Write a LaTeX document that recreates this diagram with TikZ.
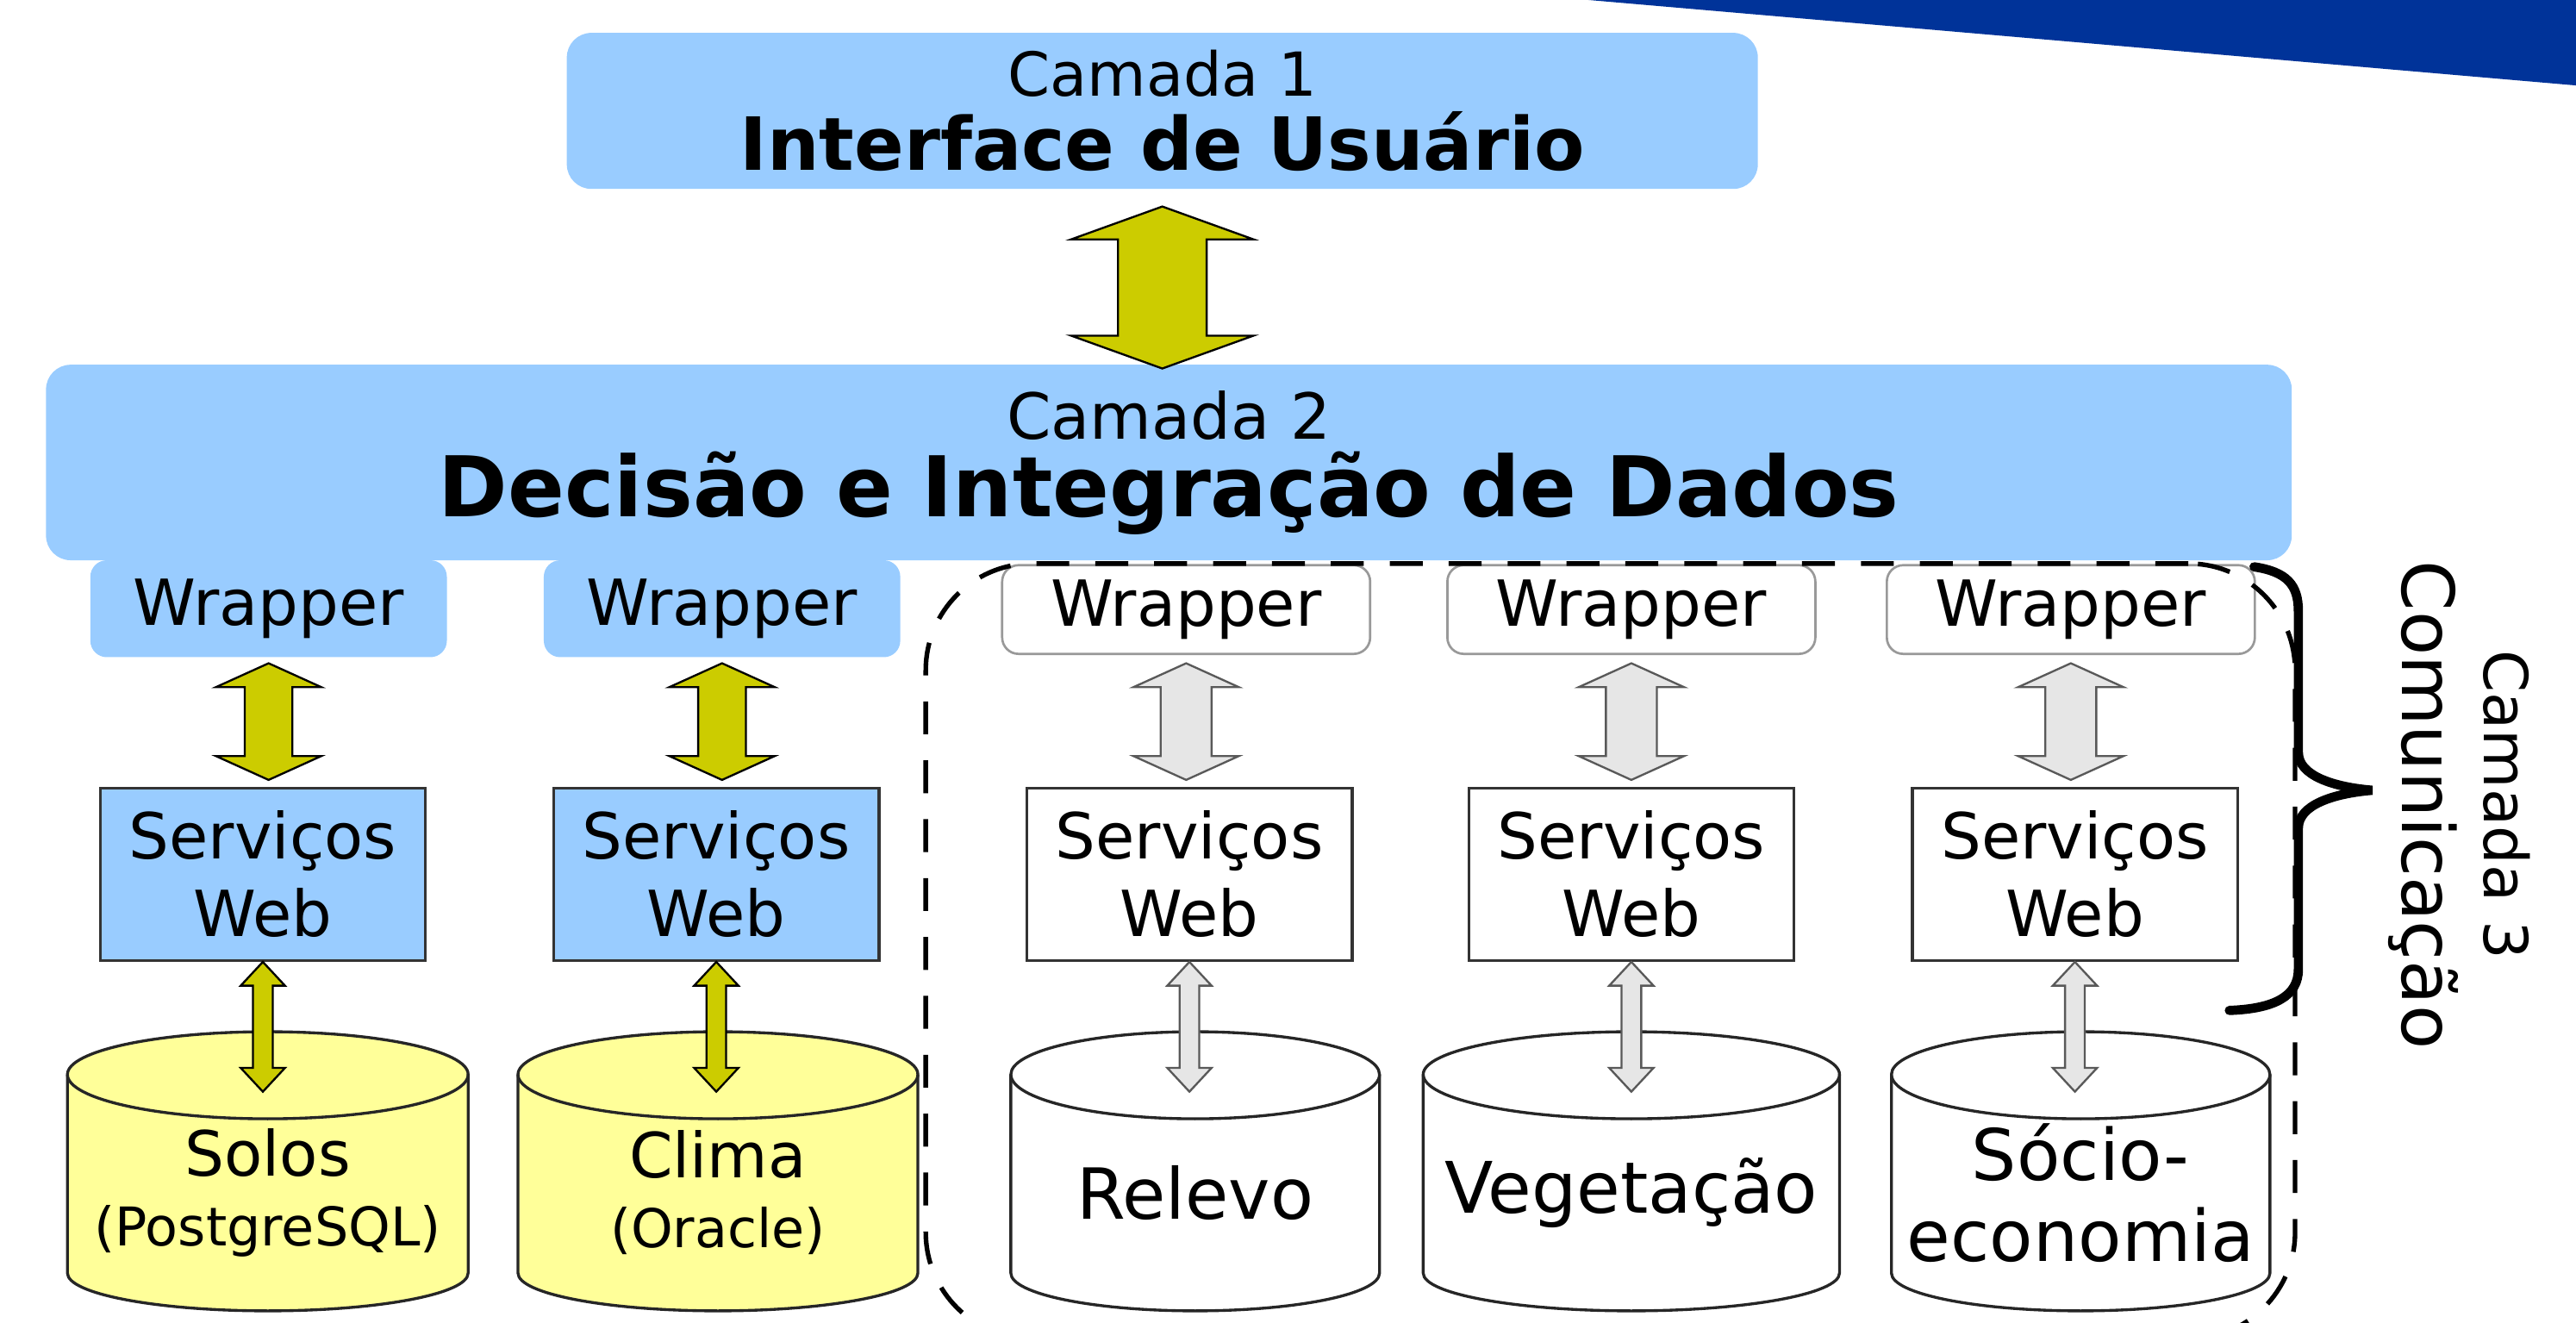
\documentclass[tikz,border=0pt]{standalone}
\usepackage{fontspec}
\setmainfont{DejaVu Sans}
\usetikzlibrary{positioning, calc, fit}

\definecolor{layerblue}{HTML}{99CCFF}
\definecolor{arrowyellow}{HTML}{CCCC00}
\definecolor{dbyellow}{HTML}{FFFF99}
\definecolor{arrowgray}{HTML}{E6E6E6}
\definecolor{bandblue}{HTML}{003399}

\pgfdeclarelayer{background}
\pgfsetlayers{background,main}

% double block arrow: #1 style, #2 top end, #3 bottom end, #4 half shaft, #5 half head, #6 head length
\newcommand{\dblarrow}[6]{%
  \draw[#1] let \p1=(#2), \p2=(#3) in
    (\x1,\y1) -- (\x1+#5,\y1-#6) -- (\x1+#4,\y1-#6) -- (\x1+#4,\y2+#6) -- (\x1+#5,\y2+#6)
    -- (\x1,\y2) -- (\x1-#5,\y2+#6) -- (\x1-#4,\y2+#6) -- (\x1-#4,\y1-#6) -- (\x1-#5,\y1-#6) -- cycle;}

% database cylinder behind a named node: #1 node, #2 fill
\newcommand{\dbcyl}[2]{%
  \begin{pgfonlayer}{background}
    \filldraw[dbline, fill=#2] let \p1=(#1.north west), \p2=(#1.south east) in
      (\x1,\y1) -- (\x1,\y2+2.3mm) arc[start angle=180, end angle=360, x radius={(\x2-\x1)/2}, y radius=2.3mm]
      -- (\x2,\y1) arc[start angle=0, end angle=180, x radius={(\x2-\x1)/2}, y radius=2.6mm] -- cycle;
    \draw[dbline] let \p1=(#1.north west), \p2=(#1.south east) in
      (\x1,\y1) arc[start angle=180, end angle=360, x radius={(\x2-\x1)/2}, y radius=2.7mm];
  \end{pgfonlayer}}

\begin{document}
\begin{tikzpicture}[x=0.1mm, y=-0.1mm,
  layerbox/.style={fill=layerblue, rounded corners=1.5mm, inner sep=0pt, align=center},
  wrapblue/.style={fill=layerblue, rounded corners=1mm, minimum width=21.7mm, minimum height=5.9mm, inner sep=0pt, font=\fontsize{11}{13.4}\selectfont},
  wrapwhite/.style={draw=black!40, line width=0.4pt, fill=white, rounded corners=1mm, minimum width=22.4mm, minimum height=5.4mm, inner sep=0pt, font=\fontsize{11}{13.4}\selectfont},
  service/.style={draw=black!80, line width=0.5pt, fill=#1, minimum width=19.8mm, minimum height=10.5mm, inner sep=0pt, align=center, font=\fontsize{11}{13.4}\selectfont},
  db/.style={minimum width=#1, minimum height=14.25mm, inner sep=0pt, align=center},
  dbline/.style={draw=black!85, line width=0.5pt},
  yarrow/.style={fill=arrowyellow, draw=black, line width=0.35pt},
  garrow/.style={fill=arrowgray, draw=black!65, line width=0.35pt},
  cluster/.style={draw, dash pattern=on 5.7pt off 4.5pt, line width=0.8pt, rounded corners=6.5mm, inner sep=0pt},
  bracket/.style={line width=1.6pt, line cap=round}
]

% ---------- Corner band ----------
\fill[bandblue] (967,0) -- (1568,0) -- (1568,52) -- cycle;
\useasboundingbox (0,0) rectangle (1568,805);

% ---------- Layers 1 and 2 ----------
\node[layerbox, minimum width=72.5mm, minimum height=9.5mm, font=\fontsize{10.5}{12.8}\selectfont] (cam1) at (707.5,67.5) {Camada 1\\{\fontsize{12.7}{12.8}\selectfont\bfseries Interface de Usuário}};
\node[layerbox, minimum width=136.7mm, minimum height=11.9mm, font=\fontsize{11}{13.4}\selectfont] (cam2) at (711.5,281.5) {Camada 2\\{\fontsize{14.5}{13.4}\selectfont\bfseries Decisão e Integração de Dados}};

% ---------- Wrappers ----------
\node[wrapblue] (w1) at (163.5,370.5) {Wrapper};
\node[wrapblue] (w2) at (439.5,370.5) {Wrapper};
\node[wrapwhite] (w3) at (722,371) {Wrapper};
\node[wrapwhite] (w4) at (993,371) {Wrapper};
\node[wrapwhite] (w5) at (1260.5,371) {Wrapper};

% ---------- Web services ----------
\node[service=layerblue, below=7.8mm of w1, xshift=-0.35mm] (s1) {Serviços\\Web};
\node[service=layerblue, below=7.8mm of w2, xshift=-0.35mm] (s2) {Serviços\\Web};
\node[service=white, below=8mm of w3, xshift=0.2mm] (s3) {Serviços\\Web};
\node[service=white, below=8mm of w4] (s4) {Serviços\\Web};
\node[service=white, below=8mm of w5, xshift=0.25mm] (s5) {Serviços\\Web};

% ---------- Databases ----------
\node[db=24.25mm, below=6.85mm of s1, xshift=0.3mm] (c1) {{\fontsize{10.8}{12}\selectfont Solos}\\{\fontsize{9.25}{12}\selectfont (PostgreSQL)}};
\node[db=24.2mm, below=6.85mm of s2, xshift=0.1mm] (c2) {{\fontsize{10.8}{12}\selectfont Clima}\\{\fontsize{9.25}{12}\selectfont (Oracle)}};
\node[db=22.3mm, below=6.85mm of s3, xshift=0.35mm, font=\fontsize{12.2}{14}\selectfont] (c3) {Relevo};
\node[db=25.2mm, below=6.85mm of s4, font=\fontsize{12.3}{14}\selectfont] (c4) {Vegetação};
\node[db=22.9mm, below=6.85mm of s5, xshift=0.35mm, font=\fontsize{12.3}{14}\selectfont] (c5) {Sócio-\\economia};
\dbcyl{c1}{dbyellow}
\dbcyl{c2}{dbyellow}
\dbcyl{c3}{white}
\dbcyl{c4}{white}
\dbcyl{c5}{white}

% ---------- Arrows ----------
\dblarrow{yarrow}{$(cam1.south)+(0,-1mm)$}{$(cam2.north)+(0,-0.3mm)$}{2.7mm}{5.55mm}{2mm}
\foreach \i in {1,2} {
  \dblarrow{yarrow}{$(w\i.south)+(0,-0.3mm)$}{$(s\i.north)+(0,0.4mm)$}{1.45mm}{3.2mm}{1.45mm}
  \dblarrow{yarrow}{s\i.south}{$(c\i.north)+(0,-1.05mm)$}{0.6mm}{1.35mm}{1.45mm}
}
\foreach \i in {3,4,5} {
  \dblarrow{garrow}{$(w\i.south)+(0,-0.5mm)$}{$(s\i.north)+(0,0.4mm)$}{1.55mm}{3.2mm}{1.45mm}
  \dblarrow{garrow}{s\i.south}{$(c\i.north)+(0,-1.05mm)$}{0.6mm}{1.35mm}{1.45mm}
}

% ---------- Layer 3 ----------
\node[cluster, fit={(563.5,343) (1397,815)}] (grp) {};
\draw[bracket] (1372,345) .. controls (1392,348) and (1399,356) .. (1399,372) -- (1399,458)
  .. controls (1399,472) and (1420,479) .. (1444,481) .. controls (1420,483) and (1399,490) .. (1399,504)
  -- (1399,590) .. controls (1399,606) and (1385,614) .. (1357,615);
\node[rotate=-90, align=center, font=\fontsize{12.5}{14.2}\selectfont] (cam3) at (1497,490) {{\fontsize{10.5}{14.2}\selectfont Camada 3}\\Comunicação};

\end{tikzpicture}
\end{document}
